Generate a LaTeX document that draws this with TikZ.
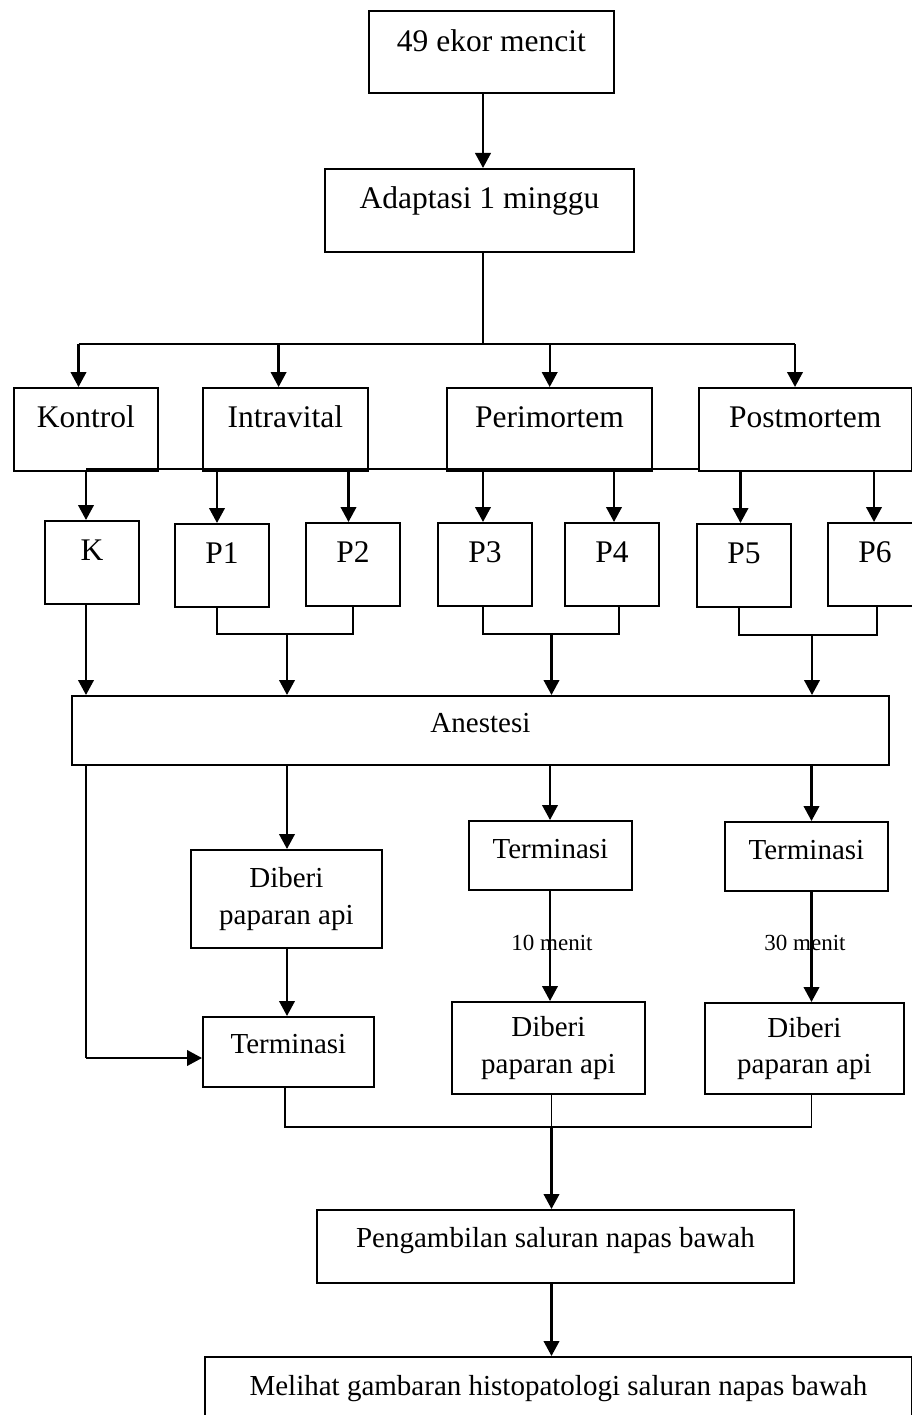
\documentclass[tikz,border=0pt]{standalone}
\usepackage{fontspec}
\setmainfont{Liberation Serif}
\usetikzlibrary{arrows.meta}
\begin{document}
\begin{tikzpicture}[x=1pt,y=-1pt,
 box/.style={draw, line width=1.8pt, rectangle, inner xsep=0pt, inner ysep=0pt, anchor=north west, align=center},
 big/.style={font=\fontsize{31.5}{36}\selectfont},
 norm/.style={font=\fontsize{29}{36.5}\selectfont},
 small/.style={font=\fontsize{23}{27}\selectfont},
 arr/.style={line width=2.4pt, -{Triangle[length=15pt,width=15.5pt]}},
 thk/.style={line width=2.4pt},
 thn/.style={line width=1.1pt}]
\useasboundingbox (0,0) rectangle (912,1415);
\clip (0,0) rectangle (912,1415);
\fill[white] (0,0) rectangle (912,1415);

% boxes
\node[box,big,minimum width=245pt,minimum height=82pt,text height=41pt,text depth=41pt] (b49) at (368,10) {49 ekor mencit};
\node[box,big,minimum width=309pt,minimum height=83pt,text height=40pt,text depth=43pt] (adapt) at (324,168) {Adaptasi 1 minggu};

\node[box,big,minimum width=144pt,minimum height=83pt,text height=40pt,text depth=43pt] (kontrol) at (13,387) {Kontrol};
\node[box,big,minimum width=165pt,minimum height=83pt,text height=40pt,text depth=43pt] (intra) at (202,387) {Intravital};
\node[box,big,minimum width=205pt,minimum height=83pt,text height=40pt,text depth=43pt] (peri) at (446,387) {Perimortem};
\node[box,big,minimum width=212.5pt,minimum height=83pt,text height=40pt,text depth=43pt] (post) at (698,387) {Postmortem};

\node[box,big,minimum width=94pt,minimum height=83pt,text height=40pt,text depth=43pt] (k) at (44,520) {K};
\node[box,big,minimum width=94pt,minimum height=83pt,text height=40pt,text depth=43pt] (p1) at (174,523) {P1};
\node[box,big,minimum width=94pt,minimum height=83pt,text height=40pt,text depth=43pt] (p2) at (305,522) {P2};
\node[box,big,minimum width=94pt,minimum height=83pt,text height=40pt,text depth=43pt] (p3) at (437,522) {P3};
\node[box,big,minimum width=94pt,minimum height=83pt,text height=40pt,text depth=43pt] (p4) at (564,522) {P4};
\node[box,big,minimum width=94pt,minimum height=83pt,text height=40pt,text depth=43pt] (p5) at (696,523) {P5};
\node[box,big,minimum width=94pt,minimum height=83pt,text height=40pt,text depth=43pt] (p6) at (827,522) {P6};

\node[box,norm,minimum width=817pt,minimum height=69pt,text height=37pt,text depth=32pt] (anest) at (71,695) {Anestesi};

\node[box,norm,minimum width=191pt,minimum height=98pt] (dib1) at (190,849) {Diberi\\paparan api};
\node[box,norm,minimum width=171pt,minimum height=70pt,text height=37pt,text depth=33pt] (term1) at (202,1016) {Terminasi};
\node[box,norm,minimum width=163pt,minimum height=69pt,text height=38pt,text depth=31pt] (term2) at (468,820) {Terminasi};
\node[box,norm,minimum width=163pt,minimum height=69pt,text height=38pt,text depth=31pt] (term3) at (724,821) {Terminasi};
\node[box,norm,minimum width=193pt,minimum height=92pt] (dib2) at (451,1001) {Diberi\\paparan api};
\node[box,norm,minimum width=199pt,minimum height=91pt] (dib3) at (704,1002) {Diberi\\paparan api};

\node[box,norm,minimum width=477pt,minimum height=73pt,text height=38pt,text depth=35pt] (peng) at (316,1209) {Pengambilan saluran napas bawah};
\node[box,norm,minimum width=707pt,minimum height=80pt,text height=39pt,text depth=41pt] (mel) at (204,1356) {Melihat gambaran histopatologi saluran napas bawah};

% labels
\node[small,anchor=base] (l10) at (552,950) {10 menit};
\node[small,anchor=base] (l30) at (805,950) {30 menit};

% top connectors
\coordinate (jA) at (483,344);
\draw[arr] (jA |- b49.south) -- (jA |- adapt.north);
\draw[thn] (jA |- adapt.south) -- (jA);
\coordinate (j1) at (78.5,344);
\coordinate (j2) at (278.6,344);
\coordinate (j3) at (549.7,344);
\coordinate (j4) at (795,344);
\draw[thk] (j1) -- (j4);
\draw[arr] (j1) -- (j1 |- kontrol.north);
\draw[arr] (j2) -- (j2 |- intra.north);
\draw[arr] (j3) -- (j3 |- peri.north);
\draw[arr] (j4) -- (j4 |- post.north);

% row 2 to row 3
\coordinate (q0) at (86,469);
\coordinate (q1) at (217,469);
\coordinate (q2) at (348.5,469);
\coordinate (q3) at (483,469);
\coordinate (q4) at (614,469);
\coordinate (q5) at (740.5,469);
\coordinate (q6) at (874,469);
\draw[thn] (q0) -- (q0 -| post.south west);
\draw[arr] (q0 |- kontrol.south) -- (q0 |- k.north);
\draw[arr] (q1 |- intra.south) -- (q1 |- p1.north);
\draw[arr] (q2 |- intra.south) -- (q2 |- p2.north);
\draw[arr] (q3 |- peri.south) -- (q3 |- p3.north);
\draw[arr] (q4 |- peri.south) -- (q4 |- p4.north);
\draw[arr] (q5 |- post.south) -- (q5 |- p5.north);
\draw[arr] (q6 |- post.south) -- (q6 |- p6.north);

% brackets to Anestesi
\coordinate (r1) at (217,634);
\coordinate (r1b) at (353,634);
\coordinate (s1) at (287,634);
\draw[thn] (r1 |- p1.south) -- (r1) -- (r1b) -- (r1b |- p2.south);
\draw[arr] (s1) -- (s1 |- anest.north);
\coordinate (r2) at (483,634);
\coordinate (r2b) at (619,634);
\coordinate (s2) at (551.5,634);
\draw[thn] (r2 |- p3.south) -- (r2) -- (r2b) -- (r2b |- p4.south);
\draw[arr] (s2) -- (s2 |- anest.north);
\coordinate (r3) at (739,635);
\coordinate (r3b) at (877,635);
\coordinate (s3) at (812,635);
\draw[thn] (r3 |- p5.south) -- (r3) -- (r3b) -- (r3b |- p6.south);
\draw[arr] (s3) -- (s3 |- anest.north);
\draw[arr] (q0 |- k.south) -- (q0 |- anest.north);

% below Anestesi
\coordinate (corner) at (86,1058);
\draw[thn] (corner |- anest.south) -- (corner);
\draw[arr] (corner) -- (corner -| term1.west);
\coordinate (u1) at (287,764);
\draw[arr] (u1 |- anest.south) -- (u1 |- dib1.north);
\draw[arr] (u1 |- dib1.south) -- (u1 |- term1.north);
\coordinate (u2) at (550,764);
\draw[arr] (u2 |- anest.south) -- (u2 |- term2.north);
\draw[arr] (u2 |- term2.south) -- (u2 |- dib2.north);
\coordinate (u3) at (811.5,764);
\draw[arr] (u3 |- anest.south) -- (u3 |- term3.north);
\draw[arr] (u3 |- term3.south) -- (u3 |- dib3.north);

% bottom bracket
\coordinate (v1) at (285,1127);
\coordinate (v2) at (551.5,1127);
\coordinate (v3) at (811.5,1127);
\draw[thn] (v1 |- term1.south) -- (v1) -- (v3) -- (v3 |- dib3.south);
\draw[thn] (v2 |- dib2.south) -- (v2);
\draw[arr] (v2) -- (v2 |- peng.north);
\draw[arr] (v2 |- peng.south) -- (v2 |- mel.north);
\end{tikzpicture}
\end{document}
